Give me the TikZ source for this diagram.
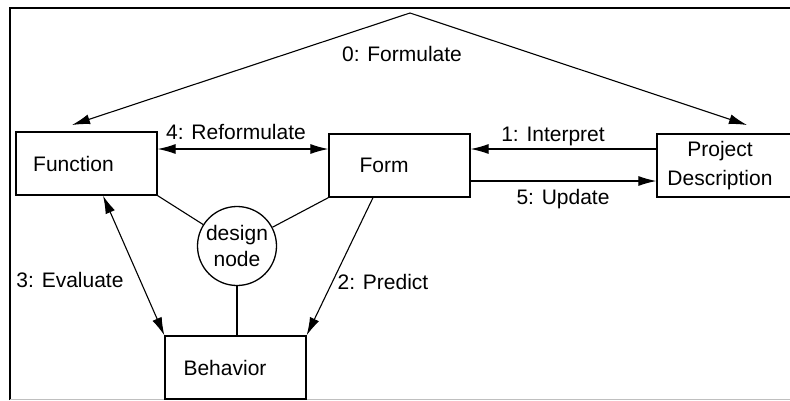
\documentclass[tikz,border=0pt]{standalone}
\usepackage{fontspec}
\setmainfont{Liberation Sans}
\usetikzlibrary{arrows.meta}
\tikzset{
	box/.style={draw, line width=1.3pt, minimum width=141pt, minimum height=63pt, inner sep=0pt},
	lbl/.style={font=\fontsize{21}{24}\selectfont, inner sep=0pt},
	arr/.style={line width=1.1pt},
	link/.style={line width=1.1pt},
	>={Latex[length=18pt,width=10pt]}
}
\begin{document}
\begin{tikzpicture}[x=1pt,y=-1pt]
				\useasboundingbox (0,0) rectangle (790,400);
				\draw [line width=1.6pt] (10,400) -- (10,8) -- (790,8);
				\draw [gray!50, line width=0.8pt] (10,399) -- (790,399);
				\node [box, label={[lbl, xshift=-13pt]center:Function}] (fun) at (86.5,163.5) {};
				\node [box, label={[lbl, xshift=-15.5pt]center:Form}] (form) at (399.5,165.5) {};
				\node [box, label={[lbl, xshift=-7.5pt, align=center, font=\fontsize{21}{29}\selectfont]center:Project\\Description}] (proj) at (727.5,165.5) {};
				\node [box, label={[lbl, xshift=-10.5pt]center:Behavior}] (beh) at (235.5,367.5) {};
				\node [draw, circle, line width=1.3pt, minimum size=79pt, inner sep=0pt, align=center, font=\fontsize{21}{26}\selectfont] (dn) at (237,246) {design\\node};
				\coordinate (top) at (410,13);
				\coordinate (funtop) at (72,125);
				\coordinate (projtop) at (747,125);
				\draw [arr, ->] (top) -- (funtop);
				\draw [arr, ->] (top) -- (projtop);
				\draw [arr, <->] (fun.east |- 0,149) -- (form.west |- 0,149);
				\draw [arr, ->] (proj.west |- 0,149) -- (form.east |- 0,149);
				\draw [arr, ->] (form.east |- 0,181) -- (proj.west |- 0,181);
				\draw [arr, <->] ([xshift=16.5pt]fun.south) -- (beh.north west);
				\draw [arr, ->] ([xshift=-26.5pt]form.south) -- (beh.north east);
				\draw [link] (fun.south east) -- (dn);
				\draw [link] (form.south west) -- (dn);
				\draw [link] (dn) -- (dn |- beh.north);
				\node [lbl] (lf) at (402,54) {0: Formulate};
				\node [lbl] (lr) at (236,132) {4: Reformulate};
				\node [lbl] (li) at (553,136) {1: Interpret};
				\node [lbl] (lu) at (563,199) {5: Update};
				\node [lbl] (le) at (70,280) {3: Evaluate};
				\node [lbl] (lp) at (383,282) {2: Predict};
			\end{tikzpicture}
\end{document}
